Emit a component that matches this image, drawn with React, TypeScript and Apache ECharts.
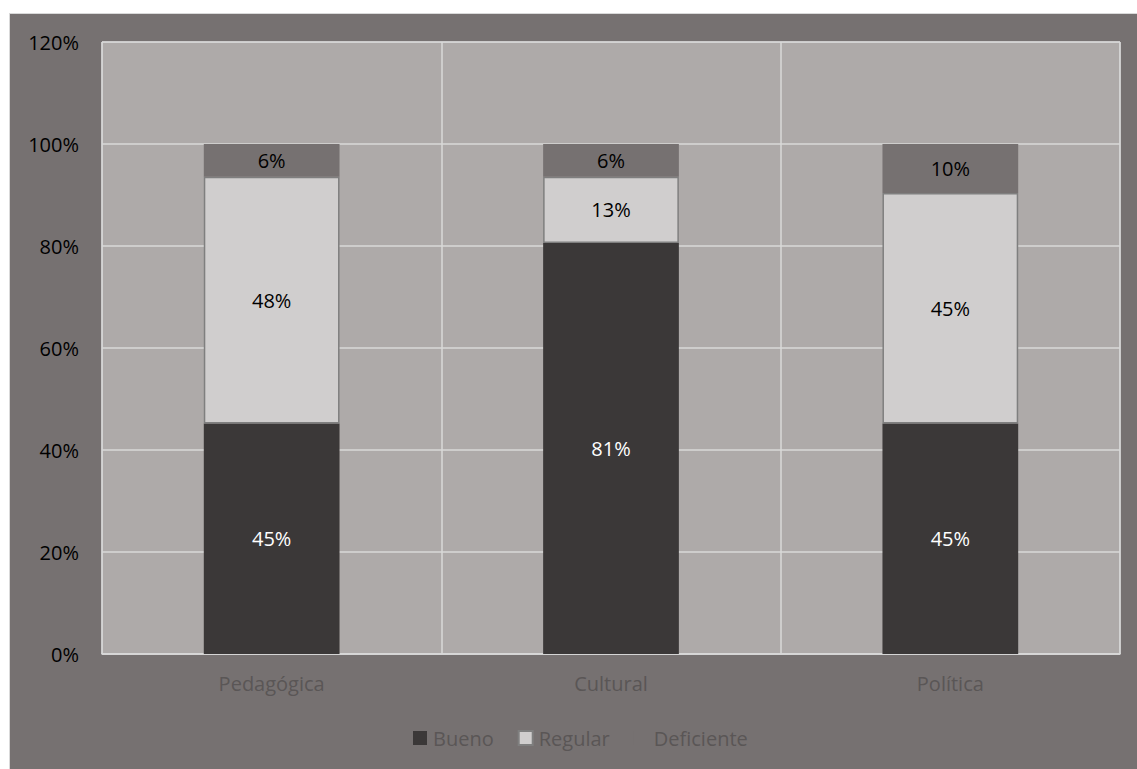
import React, { useEffect, useRef } from "react";
import * as echarts from "echarts";

const categories = ["Pedagógica", "Cultural", "Política"];
const bueno = [45.2, 80.6, 45.2];
const regular = [48.4, 13.0, 45.2];
const deficiente = [6.4, 6.4, 9.6];
const seriesNames = ["Bueno", "Regular", "Deficiente"];

const FONT = "Open Sans";

export default function App() {
  const ref = useRef<HTMLDivElement>(null);
  useEffect(() => {
    if (!ref.current) return;
    const chart = echarts.init(ref.current, null, { renderer: "svg" });
    const label = (color: string) => ({
      show: true,
      position: "inside",
      color,
      fontFamily: FONT,
      fontSize: 20,
      formatter: (p: any) => Math.round(p.value) + "%",
    });
    chart.setOption({
      animation: false,
      textStyle: { fontFamily: FONT },
      graphic: [
        {
          type: "rect",
          z: -100,
          shape: { x: 9.5, y: 13.5, width: 1140, height: 770 },
          style: { fill: "#767171", stroke: "#D9D9D9", lineWidth: 1 },
        },
      ],
      grid: {
        left: 102,
        top: 42,
        right: 17,
        bottom: 115,
        show: true,
        backgroundColor: "#AEAAA9",
        borderColor: "#D9D9D9",
        borderWidth: 1,
      },
      legend: {
        left: 408,
        top: 723,
        itemWidth: 14,
        itemHeight: 14,
        itemGap: 24,
        icon: "rect",
        textStyle: { color: "#5A5656", fontSize: 20, fontFamily: FONT, padding: [0, 0, 0, 1] },
        data: seriesNames,
      },
      xAxis: {
        type: "category",
        data: categories,
        axisLine: { show: true, lineStyle: { color: "#D9D9D9", width: 1.5 } },
        axisTick: { show: false },
        axisLabel: { color: "#5A5656", fontSize: 20, fontFamily: FONT, margin: 19 },
        splitLine: { show: true, lineStyle: { color: "#D9D9D9", width: 1.5 } },
      },
      yAxis: {
        type: "value",
        min: 0,
        max: 120,
        interval: 20,
        axisLine: { show: false },
        axisTick: { show: false },
        axisLabel: { color: "#000000", fontSize: 20, fontFamily: FONT, margin: 23, formatter: "{value}%" },
        splitLine: { show: true, lineStyle: { color: "#D9D9D9", width: 1.5 } },
      },
      series: [
        {
          name: seriesNames[0],
          type: "bar",
          stack: "total",
          barCategoryGap: "60%",
          data: bueno,
          itemStyle: { color: "#3B3838" },
          label: label("#FFFFFF"),
        },
        {
          name: seriesNames[1],
          type: "bar",
          stack: "total",
          barCategoryGap: "60%",
          data: regular,
          itemStyle: { color: "#D0CECE", borderColor: "#7F7F7F", borderWidth: 1.5 },
          label: label("#000000"),
        },
        {
          name: seriesNames[2],
          type: "bar",
          stack: "total",
          barCategoryGap: "60%",
          data: deficiente,
          itemStyle: { color: "#767171" },
          label: label("#000000"),
        },
      ],
    });
    return () => chart.dispose();
  }, []);
  return (
    <div
      ref={ref}
      style={{ position: "absolute", left: 0, top: 0, width: 1137, height: 769 }}
    />
  );
}
